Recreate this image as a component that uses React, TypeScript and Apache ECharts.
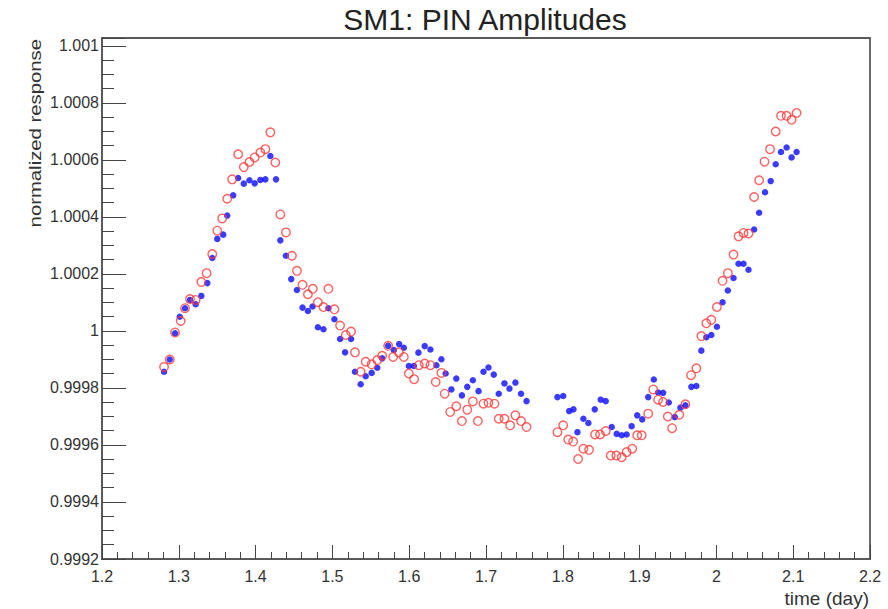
import React, { useEffect, useRef } from "react";
import * as echarts from "echarts";

// ---- data ----
const blueTime = [
  1.2808, 1.2882, 1.2951, 1.3012, 1.3081, 1.3146, 1.3219, 1.3293, 1.3371, 1.3436,
  1.3501, 1.3578, 1.363, 1.3708, 1.3773, 1.3846, 1.392, 1.3988, 1.4062, 1.4127,
  1.4192, 1.4266, 1.4322, 1.4395, 1.4464, 1.4538, 1.4611, 1.4681, 1.4741, 1.4811,
  1.4884, 1.4948, 1.5026, 1.51, 1.5165, 1.5243, 1.5294, 1.5368, 1.5433, 1.5511,
  1.5584, 1.5648, 1.5726, 1.58, 1.5869, 1.593, 1.5995, 1.606, 1.612, 1.6202,
  1.6276, 1.6354, 1.6419, 1.6475, 1.6549, 1.6613, 1.6686, 1.6756, 1.6829, 1.6903,
  1.6967, 1.7032, 1.7101, 1.7166, 1.724, 1.7305, 1.7383, 1.7456, 1.7528, 1.793,
  1.8005, 1.8083, 1.8139, 1.8191, 1.8268, 1.8333, 1.8416, 1.8494, 1.8559, 1.8637,
  1.8702, 1.8767, 1.8831, 1.8896, 1.8969, 1.9034, 1.9112, 1.9185, 1.9241, 1.9306,
  1.938, 1.9458, 1.9531, 1.9596, 1.9674, 1.9739, 1.9804, 1.9869, 1.9934, 2.0007,
  2.008, 2.0149, 2.0223, 2.0288, 2.0353, 2.0418, 2.0491, 2.0556, 2.0633, 2.0707,
  2.0772, 2.0841, 2.0914, 2.0979, 2.1044,
];
const blueResponse = [
  0.999857, 0.9999, 0.999992, 1.00005, 1.00008, 1.000109, 1.000094, 1.000123, 1.000168, 1.000256,
  1.000323, 1.000338, 1.000405, 1.000476, 1.000537, 1.000517, 1.000529, 1.000518, 1.00053, 1.000532,
  1.000614, 1.000532, 1.000318, 1.000264, 1.000182, 1.000144, 1.000082, 1.00007, 1.000086, 1.000013,
  1.000006, 1.00008, 1.000041, 0.999972, 0.999925, 0.999972, 0.999857, 0.999813, 0.999841, 0.999853,
  0.999871, 0.999904, 0.999948, 0.999933, 0.999954, 0.999941, 0.999877, 0.999877, 0.999924, 0.999947,
  0.999935, 0.99988, 0.999901, 0.999851, 0.999795, 0.999833, 0.999774, 0.999804, 0.999827, 0.999789,
  0.999857, 0.999872, 0.999847, 0.99978, 0.999816, 0.999798, 0.999819, 0.99978, 0.999754, 0.999768,
  0.999772, 0.999719, 0.999725, 0.999645, 0.999692, 0.999677, 0.999725, 0.999759, 0.999754, 0.999663,
  0.999639, 0.999634, 0.999637, 0.999666, 0.999704, 0.99969, 0.999768, 0.99983, 0.999784, 0.999783,
  0.999749, 0.999698, 0.999731, 0.999739, 0.999804, 0.999807, 0.999931, 0.999978, 0.999986, 1.000015,
  1.000101, 1.000142, 1.000186, 1.000236, 1.000236, 1.000215, 1.000356, 1.000415, 1.000487, 1.000526,
  1.000585, 1.000628, 1.000644, 1.000609, 1.000628,
];

const redTime = [
  1.2808, 1.2882, 1.2951, 1.3025, 1.3081, 1.3146, 1.3219, 1.3293, 1.3362, 1.3436,
  1.3501, 1.3565, 1.363, 1.3695, 1.3773, 1.3846, 1.392, 1.3988, 1.4062, 1.4127,
  1.4192, 1.4257, 1.4322, 1.4395, 1.4473, 1.4538, 1.4611, 1.4681, 1.4745, 1.4811,
  1.4884, 1.4948, 1.5026, 1.51, 1.5174, 1.5243, 1.5294, 1.5368, 1.5433, 1.5511,
  1.5584, 1.5648, 1.5726, 1.5791, 1.5865, 1.593, 1.5995, 1.6064, 1.6125, 1.6202,
  1.6276, 1.6345, 1.6419, 1.6462, 1.6534, 1.6613, 1.6686, 1.6756, 1.6829, 1.6894,
  1.6967, 1.7032, 1.711, 1.7166, 1.724, 1.7314, 1.7383, 1.7456, 1.7528, 1.793,
  1.8005, 1.807, 1.8135, 1.82, 1.8268, 1.8342, 1.842, 1.8485, 1.8559, 1.8624,
  1.8697, 1.8767, 1.8831, 1.8904, 1.8969, 1.9027, 1.9112, 1.9177, 1.9241, 1.9306,
  1.9367, 1.9423, 1.9517, 1.9596, 1.967, 1.9739, 1.9804, 1.9869, 1.9934, 2.0007,
  2.008, 2.0149, 2.0223, 2.0288, 2.0353, 2.0418, 2.0491, 2.0556, 2.0626, 2.0698,
  2.0772, 2.0841, 2.0914, 2.0979, 2.1044,
];
const redResponse = [
  0.999874, 0.9999, 0.999995, 1.000035, 1.00008, 1.000112, 1.000109, 1.000172, 1.000203, 1.00027,
  1.000352, 1.000395, 1.000464, 1.000532, 1.00062, 1.000575, 1.000593, 1.000609, 1.000626, 1.000638,
  1.000697, 1.000591, 1.000409, 1.000346, 1.000264, 1.000211, 1.000162, 1.000129, 1.000148, 1.000101,
  1.000084, 1.000148, 1.000076, 1.000019, 0.999986, 0.999998, 0.999925, 0.999857, 0.999892, 0.999883,
  0.999898, 0.999913, 0.999948, 0.999909, 0.999925, 0.999909, 0.999851, 0.999831, 0.99988, 0.999886,
  0.99988, 0.999821, 0.999853, 0.99978, 0.999716, 0.999736, 0.999684, 0.999724, 0.999753, 0.999684,
  0.999745, 0.999748, 0.999745, 0.999692, 0.999692, 0.999669, 0.999704, 0.999684, 0.999663, 0.999645,
  0.999669, 0.999619, 0.999612, 0.999551, 0.999587, 0.999583, 0.999637, 0.999637, 0.999649, 0.999563,
  0.999563, 0.999557, 0.999575, 0.999587, 0.999634, 0.999634, 0.99971, 0.999795, 0.999759, 0.999751,
  0.9997, 0.999659, 0.999706, 0.999743, 0.999845, 0.999869, 0.999982, 1.000027, 1.000039, 1.000084,
  1.000176, 1.000203, 1.000268, 1.000332, 1.000344, 1.000342, 1.00047, 1.000529, 1.000594, 1.000638,
  1.0007, 1.000755, 1.000755, 1.000741, 1.000765,
];

const titleText = "SM1: PIN Amplitudes";
const xTitle = "time (day)";
const yTitle = "normalized response";
const xMin = 1.2;
const xMax = 2.2;
const xStep = 0.1;
const yMin = 0.9992;
const yMax = 1.001028;
const yStep = 0.0002;

const zip = (xs: number[], ys: number[]) => xs.map((x, i) => [x, ys[i]]);

const axisFont = "'Liberation Sans Narrow', 'Liberation Sans', Arial, sans-serif";
const frameColor = "#5a5a5a";

export default function App() {
  const ref = useRef<HTMLDivElement>(null);

  useEffect(() => {
    if (!ref.current) return;
    const chart = echarts.init(ref.current, undefined, { renderer: "svg" });
    chart.setOption({
      animation: false,
      backgroundColor: "#ffffff",
      grid: {
        left: 102,
        right: 18,
        top: 38,
        bottom: 50,
        show: true,
        borderColor: frameColor,
        borderWidth: 1.8,
        backgroundColor: "transparent",
      },
      xAxis: {
        type: "value",
        min: xMin,
        max: xMax,
        interval: xStep,
        axisLine: { show: true, lineStyle: { color: frameColor, width: 1.8 } },
        axisTick: { show: true, inside: true, length: 14, lineStyle: { color: "#444", width: 1 } },
        minorTick: { show: true, splitNumber: 5, length: 7, lineStyle: { color: "#444", width: 1 } },
        splitLine: { show: false },
        axisLabel: {
          margin: 9,
          color: "#333",
          fontSize: 16,
          fontFamily: axisFont,
          formatter: (v: number) => String(Math.round(v * 10) / 10),
        },
      },
      yAxis: {
        type: "value",
        min: yMin,
        max: yMax,
        interval: yStep,
        axisLine: { show: true, lineStyle: { color: frameColor, width: 1.8 } },
        axisTick: { show: true, inside: true, length: 24, lineStyle: { color: "#444", width: 1 } },
        minorTick: { show: true, splitNumber: 4, length: 12, lineStyle: { color: "#444", width: 1 } },
        splitLine: { show: false },
        axisLabel: {
          margin: 3,
          color: "#333",
          fontSize: 16,
          fontFamily: axisFont,
          showMaxLabel: false,
          formatter: (v: number) => String(Math.round(v * 10000) / 10000),
        },
      },
      series: [
        {
          name: "blue",
          type: "scatter",
          data: zip(blueTime, blueResponse),
          symbol: "circle",
          symbolSize: 6.5,
          itemStyle: { color: "#0a0aff" },
          z: 2,
        },
        {
          name: "red",
          type: "scatter",
          data: zip(redTime, redResponse),
          symbol: "circle",
          symbolSize: 8.5,
          itemStyle: {
            color: "rgba(0,0,0,0)",
            borderColor: "#ff3838",
            borderWidth: 1.4,
          },
          z: 3,
        },
      ],
      graphic: [
        {
          type: "text",
          x: 485,
          y: 19,
          style: {
            text: titleText,
            fill: "#222",
            font: "30px 'Liberation Sans', Arial, sans-serif",
            textAlign: "center",
            textVerticalAlign: "middle",
          },
        },
        {
          type: "text",
          x: 35,
          y: 39,
          rotation: Math.PI / 2,
          scaleX: 1.27,
          style: {
            text: yTitle,
            fill: "#333",
            font: "16px 'Liberation Sans', Arial, sans-serif",
            textAlign: "right",
            textVerticalAlign: "middle",
          },
        },
        {
          type: "text",
          x: 869,
          y: 598,
          style: {
            text: xTitle,
            fill: "#333",
            font: "19px " + axisFont,
            textAlign: "right",
            textVerticalAlign: "middle",
          },
        },
      ],
    });
    return () => chart.dispose();
  }, []);

  return (
    <div
      ref={ref}
      style={{ position: "fixed", left: 0, top: 0, width: 888, height: 609, background: "#fff" }}
    />
  );
}
